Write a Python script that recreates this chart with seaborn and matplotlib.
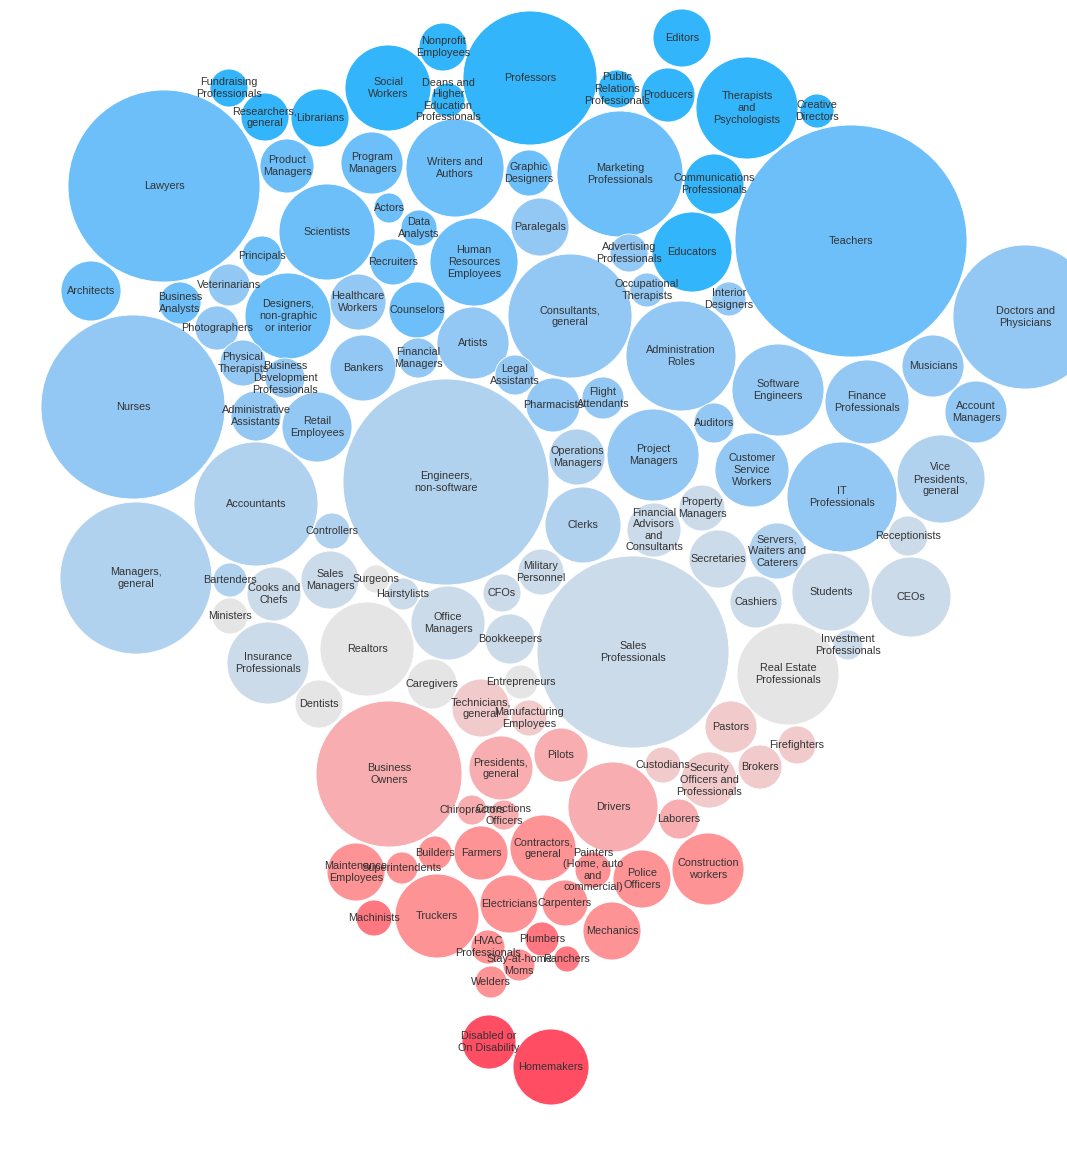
import numpy as np
import pandas as pd
import matplotlib
matplotlib.use("Agg")
import matplotlib.pyplot as plt
import seaborn as sns

# ── Data: occupation bubbles (centre x, centre y, radius in px, lean level 1..11) ──
names = [
    "Fundraising\nProfessionals", "Researchers,\ngeneral", "Librarians", "Product\nManagers", "Lawyers",
    "Scientists", "Principals", "Architects", "Veterinarians", "Business\nAnalysts",
    "Designers,\nnon-graphic\nor interior", "Photographers", "Physical\nTherapists",
    "Business\nDevelopment\nProfessionals", "Healthcare\nWorkers",
    "Nonprofit\nEmployees", "Social\nWorkers", "Deans and\nHigher\nEducation\nProfessionals", "Professors",
    "Public\nRelations\nProfessionals", "Producers", "Editors", "Program\nManagers", "Writers and\nAuthors",
    "Graphic\nDesigners", "Marketing\nProfessionals", "Actors", "Data\nAnalysts", "Paralegals",
    "Human\nResources\nEmployees", "Recruiters", "Advertising\nProfessionals", "Educators",
    "Occupational\nTherapists", "Consultants,\ngeneral", "Counselors", "Artists", "Bankers",
    "Financial\nManagers", "Administration\nRoles", "Legal\nAssistants",
    "Therapists\nand\nPsychologists", "Creative\nDirectors", "Communications\nProfessionals", "Teachers",
    "Interior\nDesigners", "Doctors and\nPhysicians", "Musicians", "Software\nEngineers",
    "Finance\nProfessionals", "Account\nManagers", "Auditors", "Customer\nService\nWorkers",
    "IT\nProfessionals", "Vice\nPresidents,\ngeneral", "Property\nManagers", "Receptionists",
    "Secretaries", "Servers,\nWaiters and\nCaterers", "Students", "CEOs", "Cashiers",
    "Investment\nProfessionals", "Real Estate\nProfessionals", "Pastors",
    "Engineers,\nnon-software", "Pharmacists", "Flight\nAttendants", "Operations\nManagers",
    "Project\nManagers", "Clerks", "Financial\nAdvisors\nand\nConsultants", "Military\nPersonnel", "CFOs",
    "Surgeons", "Hairstylists", "Office\nManagers", "Bookkeepers", "Sales\nProfessionals", "Realtors",
    "Caregivers", "Entrepreneurs", "Technicians,\ngeneral", "Manufacturing\nEmployees", "Controllers",
    "Nurses", "Administrative\nAssistants", "Retail\nEmployees", "Accountants", "Managers,\ngeneral",
    "Bartenders", "Cooks and\nChefs", "Sales\nManagers", "Ministers", "Insurance\nProfessionals", "Dentists",
    "Business\nOwners", "Presidents,\ngeneral", "Pilots", "Chiropractors", "Corrections\nOfficers",
    "Contractors,\ngeneral", "Farmers", "Builders", "Superintendents", "Maintenance\nEmployees",
    "Machinists", "Truckers", "Electricians", "HVAC\nProfessionals", "Stay-at-home\nMoms", "Welders",
    "Plumbers", "Ranchers", "Carpenters", "Painters\n(Home, auto\nand\ncommercial)", "Police\nOfficers",
    "Construction\nworkers", "Mechanics", "Drivers", "Laborers", "Custodians",
    "Security\nOfficers and\nProfessionals", "Brokers", "Firefighters", "Disabled or\nOn Disability",
    "Homemakers",
]
x_pos = [
    229, 265, 320, 287, 164,
    327, 262, 91, 229, 180,
    288, 217, 243,
    285, 358,
    443, 388, 448, 530,
    617, 668, 682, 372, 455,
    529, 620, 389, 419, 540,
    474, 393, 629, 692,
    647, 570, 417, 473, 363,
    418, 681, 515,
    747, 817, 714, 851,
    729, 1025, 933, 778,
    867, 976, 714, 752,
    842, 941, 702, 908,
    718, 777, 831, 911, 756,
    848, 788, 731,
    446, 553, 603, 577,
    653, 583, 654, 541, 502,
    376, 403, 448, 510, 633, 367,
    432, 521, 481, 529, 332,
    133, 256, 317, 256, 136,
    230, 274, 330, 230, 268, 319,
    389, 501, 561, 472, 504,
    543, 481, 435, 402, 356,
    374, 437, 509, 488, 519, 491,
    542, 567, 565, 593, 642,
    708, 612, 613, 679, 663,
    709, 760, 797, 489,
    551,
]
y_pos = [
    88, 117, 118, 166, 186,
    232, 256, 291, 285, 303,
    316, 328, 363,
    378, 302,
    47, 88, 100, 78,
    89, 95, 38, 163, 168,
    173, 174, 208, 228, 227,
    262, 262, 253, 252,
    290, 316, 310, 343, 368,
    358, 356, 375,
    108, 111, 184, 241,
    299, 317, 366, 390,
    402, 412, 423, 470,
    497, 479, 508, 536,
    559, 551, 592, 597, 602,
    645, 674, 727,
    482, 405, 398, 457,
    455, 525, 530, 572, 593,
    579, 594, 623, 639, 652, 649,
    684, 682, 708, 718, 531,
    407, 416, 427, 504, 578,
    580, 594, 580, 616, 663, 704,
    774, 768, 755, 810, 815,
    848, 853, 853, 868, 872,
    918, 916, 904, 947, 965, 982,
    939, 959, 903, 870, 879,
    869, 931, 807, 819, 765,
    780, 767, 745, 1042,
    1067,
]
radius = [
    19, 24, 29, 27, 96,
    48, 20, 30, 21, 21,
    43, 22, 23,
    20, 28,
    24, 43, 17, 67,
    19, 27, 29, 31, 49,
    23, 63, 15, 18, 29,
    44, 23, 19, 40,
    17, 62, 28, 36, 33,
    20, 55, 20,
    51, 17, 30, 116,
    17, 72, 31, 46,
    42, 31, 20, 37,
    55, 44, 23, 20,
    29, 28, 39, 40, 26,
    15, 51, 26,
    103, 27, 21, 28,
    46, 38, 27, 23, 19,
    14, 16, 37, 25, 96, 47,
    25, 17, 29, 18, 18,
    92, 25, 35, 62, 76,
    17, 27, 29, 18, 41, 24,
    73, 32, 27, 15, 15,
    33, 27, 17, 16, 29,
    18, 42, 29, 17, 16, 16,
    17, 13, 23, 18, 29,
    36, 29, 45, 20, 18,
    28, 22, 19, 27,
    38,
]
lean = [
    1, 1, 1, 2, 2,
    2, 2, 2, 3, 2,
    2, 3, 3,
    3, 3,
    1, 1, 1, 1,
    1, 1, 1, 2, 2,
    2, 2, 2, 2, 3,
    2, 2, 3, 1,
    3, 3, 2, 3, 3,
    3, 3, 3,
    1, 1, 1, 2,
    3, 3, 3, 3,
    3, 3, 3, 3,
    3, 4, 5, 5,
    5, 4, 5, 5, 5,
    5, 6, 7,
    4, 3, 3, 4,
    3, 4, 5, 5, 5,
    6, 5, 5, 5, 5, 6,
    6, 6, 7, 7, 4,
    3, 3, 3, 4, 4,
    4, 5, 5, 6, 5, 6,
    8, 8, 8, 8, 8,
    9, 9, 9, 9, 9,
    10, 9, 9, 9, 9, 9,
    10, 10, 9, 9, 9,
    9, 9, 8, 8, 7,
    7, 7, 7, 11,
    11,
]

LEAN_COLORS = {
    1: "#33b5fb", 2: "#6dbff9", 3: "#93c8f4", 4: "#b1d2ef", 5: "#ccdbea",
    6: "#e5e5e5", 7: "#f1cacc", 8: "#f8aeb0", 9: "#fe9396", 10: "#ff7781", 11: "#ff4d64",
}

W, H, DPI = 1067, 1149, 100

df = pd.DataFrame({"name": names, "x": x_pos, "y": y_pos, "r": radius, "lean": lean})
# marker area in points^2 so that the radius matches pixels
df["area"] = (2 * df["r"] * 72 / DPI) ** 2

plt.rcParams["font.family"] = ["Liberation Sans", "DejaVu Sans"]

fig = plt.figure(figsize=(W / DPI, H / DPI), dpi=DPI)
ax = fig.add_axes([0, 0, 1, 1])
sns.scatterplot(data=df, x="x", y="y", hue="lean", palette=LEAN_COLORS,
                s=df["area"].values, linewidth=0.6, edgecolor="white",
                legend=False, ax=ax)
for _, row in df.iterrows():
    ax.text(row.x, row.y, row["name"], ha="center", va="center",
            multialignment="center", fontsize=7.8, color="#333333", linespacing=1.2)

ax.set_xlim(0, W)
ax.set_ylim(H, 0)
ax.axis("off")
fig.savefig("out.png", dpi=DPI)
